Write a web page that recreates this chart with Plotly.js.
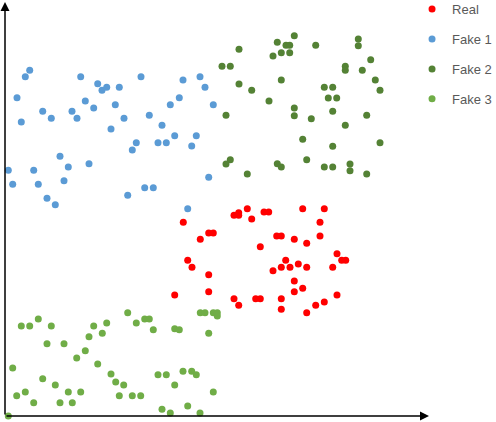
<!DOCTYPE html>
<html><head><meta charset="utf-8">
<script src="https://cdn.plot.ly/plotly-3.0.1.min.js"></script>
<style>html,body{margin:0;padding:0;background:#fff}#chart{width:496px;height:422px}</style>
</head><body><div id="chart"></div>
<script>
// values in chart units (x from left axis, y from bottom axis)
var realX = [242.3,297.7,319.3,229,233.7,233.7,259,263.7,246.7,178.3,315,203.7,208.3,195.3,271.7,276.3,289.3,315,301.7,255.3,332,182.7,280.7,336.7,340.7,187,276.3,285,293.3,301.7,327.7,268,203.7,289.3,297.7,289.3,203.7,169.7,332,229,250.7,255.3,276.3,319.3,310.7,233.7,276.3,301.7];
var realY = [207.3,207.3,207.3,200.7,203.3,200.7,204,204,197,193.7,193.7,183,183,176.7,180,180,176.7,180,172.7,169.3,162.3,155.7,155.7,155.7,155.7,148.7,148.7,148.7,152,148.7,148.7,145.3,141.3,135,127.7,124.3,124.3,121,121,117.3,117.3,117.3,117.3,114,110.7,110.7,106.7,103.3];

var fake1X = [24.7,20.3,75.7,12,92.7,97,101.7,114.3,136,178,195,200,174.3,165.3,208.3,80.3,88.7,110.3,37.7,67,46.3,72,119,16.3,144.3,106,157,169.7,191.3,131.3,153,161.3,127.3,186.7,55,84,63.3,3.3,28.7,59,7.7,33.3,203.7,139.7,148.3,122.7,42,50.3,182.7];
var fake1Y = [345.7,339.3,339.3,318.3,332.3,325.7,328.7,328.7,339.3,336,339.3,328.7,318.3,311.3,311.3,315,308,311.3,304.7,304.7,297.7,297.7,297.7,294,300.7,287,290.7,280.3,280.3,273.3,273.3,273.3,266,270,259.7,252.3,249,245.7,245.7,235.3,231.7,231.7,238.7,228.3,228.3,220.7,217.7,211.3,207.3];

var fake2X = [289.3,272.3,281,284.7,310.7,353.3,353.3,234,268,276.3,284.7,365.7,217,225.3,340.3,340.3,357.3,276.3,370.3,234,246.7,375,319.3,327.7,323.3,331.7,264,289.3,289.3,327.7,221,361.7,306.3,340.3,297.7,327.7,375,301.7,225.3,221,272.3,276.3,319.3,327.7,345,345,361.7,242.3];
var fake2Y = [380.3,373.7,370.7,370.7,370.7,377,370.3,366.7,360,363.3,363.3,356.3,349.7,349.7,349.7,345.7,345.7,336,336,332,325.7,325.7,328.7,328.7,318,318,315,308,300.3,304.7,300.7,300.7,297.3,290.7,276.7,269.7,273.3,256.3,256.3,252,252.3,249,249,249,252,245.3,242,242];

var fake3X = [195.3,208.3,212.3,169.7,3.3,7.7,11.7,16.3,24.7,33.3,20.3,28.7,37.7,42,46.3,50.3,55,59,63.3,67.3,71.7,75.7,80.3,84,88.7,92.7,97.3,101.7,106,110.7,114.3,118.7,122.7,127.3,131.3,135.7,139.7,144.3,148.3,153,157,161.3,165.3,169.7,174.3,178,182.7,186.7,191.3,195,200,203.7,208.3,212.3];
var fake3Y = [103.3,103.3,100,87.3,0,48,20.3,90,90,97,24,13.3,37.3,72.3,90,31,13.3,72.3,24,13.3,58,24,65.3,79.3,90,52,82.7,93,42,34,20.3,31,103.3,20.3,93,20.3,97,97,86.3,41.3,6.7,41.3,3,31,86.3,44.7,10,44.7,41.3,3,103.3,82.7,24,103.3];

var names = ['Real','Fake 1','Fake 2','Fake 3'];
var colors = ['#FF0000','#5B9BD5','#548235','#70AD47'];
var xs = [realX, fake1X, fake2X, fake3X];
var ys = [realY, fake1Y, fake2Y, fake3Y];

var data = names.map(function(n,i){
  return {type:'scatter', mode:'markers', name:n, x:xs[i], y:ys[i], legendgroup:n,
    cliponaxis:false, marker:{color:colors[i], size:7, symbol:'circle'}};
});

var layout = {
  width:496, height:422,
  margin:{l:5, r:67, t:2, b:6, autoexpand:false},
  paper_bgcolor:'#fff', plot_bgcolor:'#fff',
  xaxis:{range:[0,424], showgrid:false, zeroline:false, showticklabels:false, ticks:'', showline:false},
  yaxis:{range:[0,414], showgrid:false, zeroline:false, showticklabels:false, ticks:'', showline:false},
  showlegend:true,
  legend:{x:0.960, xanchor:'left', y:1.019, yanchor:'top', tracegroupgap:10, bgcolor:'rgba(0,0,0,0)',
    font:{family:'"Liberation Sans", Arial, sans-serif', size:13, color:'#595959'}},
  annotations:[
    {xref:'x', yref:'y', axref:'x', ayref:'y', x:424, y:0, ax:0, ay:0, text:'', showarrow:true,
     arrowhead:2, arrowsize:1.2, arrowwidth:1.5, arrowcolor:'#000'},
    {xref:'x', yref:'y', axref:'x', ayref:'y', x:0, y:414, ax:0, ay:0, text:'', showarrow:true,
     arrowhead:2, arrowsize:1.2, arrowwidth:1.5, arrowcolor:'#000'}
  ]
};
Plotly.newPlot('chart', data, layout, {displayModeBar:false, staticPlot:true});
</script></body></html>
